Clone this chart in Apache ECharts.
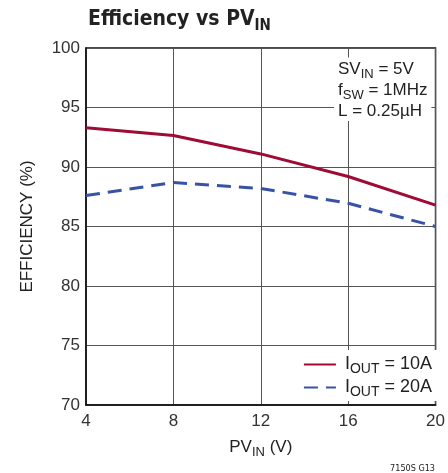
<!DOCTYPE html>
<html><head><meta charset="utf-8">
<script src="https://cdn.jsdelivr.net/npm/echarts@6/dist/echarts.min.js"></script>
<style>html,body{margin:0;padding:0;background:#fff}#c{width:448px;height:473px}</style>
</head><body><div id="c"></div>
<script>
const xValues = [4, 8, 12, 16, 20];
const eff10A = [93.3, 92.65, 91.1, 89.2, 86.8];
const eff20A = [87.6, 88.7, 88.2, 86.95, 85.0];
const seriesNames = ['IOUT10', 'IOUT20'];

const FONT = '"Liberation Sans", Arial, sans-serif';
const CFONT = '"DejaVu Sans Condensed", "Liberation Sans Narrow", sans-serif';
const chart = echarts.init(document.getElementById('c'));
const subRich = {
  a: { fontFamily: FONT, fontSize: 17, fontWeight: 'normal', color: '#222', lineHeight: 21 },
  s: { fontFamily: FONT, fontSize: 13, fontWeight: 'normal', color: '#222', lineHeight: 21, padding: [9, 0, 0, 0] }
};
const legRich = {
  a: { fontFamily: FONT, fontSize: 18, fontWeight: 'normal', color: '#222', lineHeight: 20 },
  s: { fontFamily: FONT, fontSize: 14, fontWeight: 'normal', color: '#222', lineHeight: 20, padding: [9, 0, 0, 0] }
};
chart.setOption({
  animation: false,
  backgroundColor: '#fff',
  title: [{
    text: '{t|Efficiency vs PV}{ts|IN}',
    left: 83, top: 0,
    textStyle: { rich: {
      t: { fontFamily: CFONT, fontSize: 21, fontWeight: 'bold', color: '#222', lineHeight: 30 },
      ts: { fontFamily: CFONT, fontSize: 15, fontWeight: 'bold', color: '#222', lineHeight: 30, padding: [12, 0, 0, 0] }
    } }
  }, {
    text: '{a|SV}{s|IN}{a| = 5V}\n{a|f}{s|SW}{a| = 1MHz}\n{a|L = 0.25µH}',
    left: 334, top: 58,
    padding: [1, 4, 1, 4],
    backgroundColor: '#fff',
    textStyle: { fontWeight: 'normal', rich: subRich }
  }, {
    text: '7150S G13',
    right: 8, top: 459,
    textStyle: { fontFamily: CFONT, fontSize: 9, color: '#222', fontWeight: 'normal' }
  }],
  legend: {
    right: 10, bottom: 72,
    orient: 'vertical',
    backgroundColor: '#fff',
    padding: [3, 6, 2, 6],
    itemWidth: 32, itemHeight: 4, itemGap: 0,
    data: seriesNames,
    itemStyle: { opacity: 0 },
    formatter: n => n === 'IOUT10' ? '{a|I}{s|OUT}{a| = 10A}' : '{a|I}{s|OUT}{a| = 20A}',
    textStyle: { padding: [0, 0, 0, 4], rich: legRich }
  },
  grid: { left: 86, right: 10, top: 48, bottom: 68, show: true, borderColor: '#111', borderWidth: 1.5, backgroundColor: 'transparent' },
  xAxis: {
    type: 'value', min: 4, max: 20, interval: 4,
    name: '{a|PV}{s|IN}{a| (V)}', nameLocation: 'middle', nameGap: 32,
    nameTextStyle: { rich: subRich },
    axisLine: { show: true, lineStyle: { color: '#111', width: 1.5 } },
    axisTick: { show: false },
    axisLabel: { fontFamily: FONT, fontSize: 17, color: '#333', margin: 8 },
    splitLine: { show: true, lineStyle: { color: '#555', width: 1 } }
  },
  yAxis: {
    type: 'value', min: 70, max: 100, interval: 5,
    name: 'EFFICIENCY (%)', nameLocation: 'middle', nameGap: 50,
    nameTextStyle: { fontFamily: FONT, fontSize: 17, color: '#222' },
    axisLine: { show: true, lineStyle: { color: '#111', width: 1.5 } },
    axisTick: { show: false },
    axisLabel: { fontFamily: FONT, fontSize: 17, color: '#333', margin: 6 },
    splitLine: { show: true, lineStyle: { color: '#555', width: 1 } }
  },
  series: [{
    name: seriesNames[0], type: 'line', symbol: 'none',
    data: xValues.map((x, i) => [x, eff10A[i]]),
    lineStyle: { color: '#9e0b35', width: 3 }, itemStyle: { color: '#9e0b35' }
  }, {
    name: seriesNames[1], type: 'line', symbol: 'none',
    data: xValues.map((x, i) => [x, eff20A[i]]),
    lineStyle: { color: '#3853a6', width: 3, type: [14, 8] }, itemStyle: { color: '#3853a6' }
  }]
});
</script></body></html>
